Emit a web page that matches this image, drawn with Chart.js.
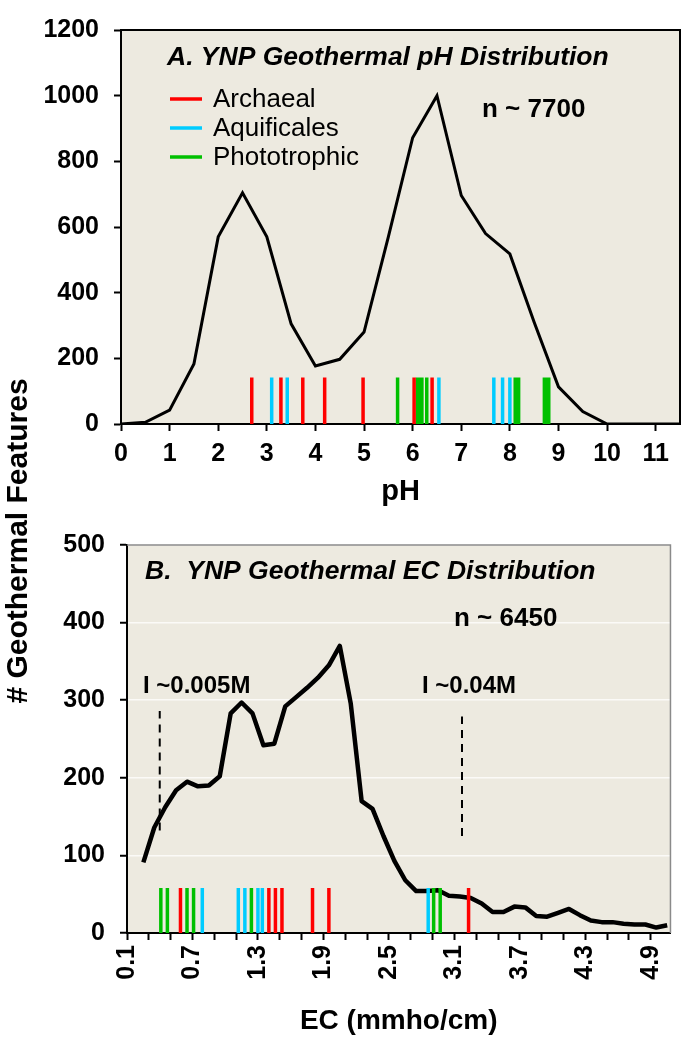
<!DOCTYPE html>
<html>
<head>
<meta charset="utf-8">
<script src="https://cdn.jsdelivr.net/npm/chart.js@4.4.1/dist/chart.umd.min.js"></script>
<style>
body { margin: 0; background: #fff; width: 686px; height: 1043px; position: relative; overflow: hidden; }
#chartA { position: absolute; left: 0; top: 0; }
#chartB { position: absolute; left: 0; top: 515px; }
#ytitle { position: absolute; left: -182px; top: 523px; width: 400px; height: 36px; line-height: 36px;
  text-align: center; font: bold 30px "Liberation Sans", Arial, sans-serif; transform: rotate(-90deg); }
</style>
</head>
<body>
<canvas id="chartA" width="686" height="515"></canvas>
<canvas id="chartB" width="686" height="528"></canvas>
<div id="ytitle"># Geothermal Features</div>
<script>
// groups shown as short marks along the x axis
let groupNames = ["Archaeal", "Aquificales", "Phototrophic"];
let groupColors = ["#ff0000", "#00ccff", "#00c000"];

// A. pH distribution
let phValues = [0, 0.5, 1, 1.5, 2, 2.5, 3, 3.5, 4, 4.5, 5, 5.5, 6, 6.5, 7, 7.5, 8, 8.5, 9, 9.5, 10, 10.5, 11, 11.5];
let phCounts = [0, 5, 42, 183, 570, 704, 570, 305, 177, 197, 280, 570, 872, 1000, 696, 580, 518, 310, 113, 38, 0, 0, 0, 0];
let phTicks = [0, 1, 2, 3, 4, 5, 6, 7, 8, 9, 10, 11];

let archaealPH = [2.69, 3.29, 3.74, 4.19, 4.98, 6.03, 6.40];
let aquificalesPH = [3.10, 3.42, 6.54, 7.67, 7.85, 8.00];
let phototrophicPH = [5.69, 6.10, 6.15, 6.19, 6.29, 8.11, 8.18, 8.71, 8.76, 8.80];

// B. EC distribution
let ecValues = [0.25, 0.35, 0.45, 0.55, 0.65, 0.75, 0.85, 0.95, 1.05, 1.15, 1.25, 1.35, 1.45, 1.55, 1.65, 1.75,
  1.85, 1.95, 2.05, 2.15, 2.25, 2.35, 2.45, 2.55, 2.65, 2.75, 2.85, 2.95, 3.05, 3.15, 3.25, 3.35, 3.45, 3.55,
  3.65, 3.75, 3.85, 3.95, 4.05, 4.15, 4.25, 4.35, 4.45, 4.55, 4.65, 4.75, 4.85, 4.95, 5.05];
let ecCounts = [91, 136, 162, 184, 195, 189, 190, 202, 283, 297, 283, 242, 244, 292, 304, 316,
  329, 345, 370, 296, 170, 160, 125, 93, 68, 54, 54, 55, 48, 47, 45, 38, 27, 27,
  34, 33, 22, 21, 26, 31, 23, 16, 14, 14, 12, 11, 11, 7, 10];
let ecTicks = [0.1, 0.3, 0.5, 0.7, 0.9, 1.1, 1.3, 1.5, 1.7, 1.9, 2.1, 2.3, 2.5, 2.7, 2.9, 3.1, 3.3, 3.5,
  3.7, 3.9, 4.1, 4.3, 4.5, 4.7, 4.9];
let ecTickLabels = ["0.1", "", "", "0.7", "", "", "1.3", "", "", "1.9", "", "", "2.5", "", "", "3.1", "", "",
  "3.7", "", "", "4.3", "", "", "4.9"];

let archaealEC = [0.59, 1.40, 1.46, 1.52, 1.80, 1.95, 3.23];
let aquificalesEC = [0.79, 1.12, 1.18, 1.30, 1.34, 2.86];
let phototrophicEC = [0.41, 0.47, 0.65, 0.71, 1.24, 2.91, 2.97];

// ionic strength markers
let ionLabels = ["I ~0.005M", "I ~0.04M"];
let ionEC = [0.40, 3.17];
let ionTop = [286, 279];
let ionBottom = [132, 125];

let markHeightA = 142;
let markHeightB = 58;

const FONT = "'Liberation Sans', Arial, sans-serif";
Chart.defaults.font.family = FONT;
Chart.defaults.color = "#000";

function markData(xs, h) {
    let pts = [];
    xs.forEach(function (x) {
        pts.push({x: x, y: 0}, {x: x, y: h}, {x: x, y: null});
    });
    return pts;
}

function xyData(xs, ys) {
    return xs.map(function (x, i) { return {x: x, y: ys[i]}; });
}

// beige plot area + frame on top/right
let plotFrame = {
    id: "plotFrame",
    beforeDraw(chart, args, opts) {
        let a = chart.chartArea, ctx = chart.ctx;
        ctx.save();
        ctx.fillStyle = "#edeae0";
        ctx.fillRect(a.left, a.top, a.right - a.left, a.bottom - a.top);
        ctx.restore();
    },
    afterDraw(chart, args, opts) {
        let a = chart.chartArea, ctx = chart.ctx;
        ctx.save();
        ctx.strokeStyle = opts.color;
        ctx.lineWidth = opts.width;
        ctx.beginPath();
        ctx.moveTo(a.left, a.top);
        ctx.lineTo(a.right, a.top);
        ctx.lineTo(a.right, a.bottom);
        ctx.stroke();
        ctx.restore();
    }
};

// titles, notes and the little legend inside the plot
let notes = {
    id: "notes",
    afterDraw(chart, args, opts) {
        let a = chart.chartArea, ctx = chart.ctx;
        ctx.save();
        ctx.fillStyle = "#000";
        ctx.textBaseline = "middle";
        ctx.textAlign = "left";
        (opts.items || []).forEach(function (it) {
            ctx.font = it.font + " " + FONT;
            ctx.fillText(it.text, a.left + it.dx, a.top + it.dy);
        });
        if (opts.legend) {
            let lg = opts.legend;
            ctx.font = lg.font + " " + FONT;
            groupNames.forEach(function (name, i) {
                let y = a.top + lg.dy + i * lg.gap;
                ctx.strokeStyle = groupColors[i];
                ctx.lineWidth = 3.5;
                ctx.beginPath();
                ctx.moveTo(a.left + lg.dx, y);
                ctx.lineTo(a.left + lg.dx + 32, y);
                ctx.stroke();
                ctx.fillText(name, a.left + lg.dx + 43, y + 1);
            });
        }
        ctx.restore();
    }
};

function markSets(lists, h) {
    return lists.map(function (xs, i) {
        return {
            label: groupNames[i],
            data: markData(xs, h),
            borderColor: groupColors[i],
            borderWidth: 3.5,
            borderCapStyle: "butt",
            pointRadius: 0,
            spanGaps: false
        };
    });
}

let tickFont = {size: 25, weight: "bold"};
function plainTick(v) { return String(v); }

// ---- chart A
let setsA = markSets([archaealPH, aquificalesPH, phototrophicPH], markHeightA);
setsA.push({
    label: "pH",
    data: xyData(phValues, phCounts),
    borderColor: "#000",
    borderWidth: 3,
    pointRadius: 0,
    tension: 0
});

new Chart(document.getElementById("chartA"), {
    type: "line",
    data: {datasets: setsA},
    plugins: [plotFrame, notes],
    options: {
        responsive: false,
        animation: false,
        layout: {padding: {top: 15, right: 6, left: 0, bottom: 0}},
        plugins: {
            legend: {display: false},
            tooltip: {enabled: false},
            plotFrame: {color: "#000", width: 2},
            notes: {
                items: [
                    {text: "A. YNP Geothermal pH Distribution", font: "italic bold 26.5px", dx: 46, dy: 28},
                    {text: "n ~ 7700", font: "bold 26px", dx: 361, dy: 80}
                ],
                legend: {font: "26px", dx: 49, dy: 69, gap: 29}
            }
        },
        scales: {
            x: {
                type: "linear",
                min: 0,
                max: 11.5,
                afterBuildTicks: function (s) { s.ticks = phTicks.map(function (v) { return {value: v}; }); },
                afterFit: function (s) { s.height = 91; },
                ticks: {font: tickFont, padding: 8, autoSkip: false, maxRotation: 0, callback: plainTick},
                grid: {drawOnChartArea: false, tickLength: 7, tickWidth: 2, tickColor: "#000"},
                border: {color: "#000", width: 2},
                title: {display: true, text: "pH", font: {size: 29, weight: "bold"}, padding: {top: 0, bottom: 6}}
            },
            y: {
                min: 0,
                max: 1200,
                afterFit: function (s) { s.width = 121; },
                ticks: {stepSize: 200, font: tickFont, padding: 15, callback: plainTick},
                grid: {drawOnChartArea: false, tickLength: 7, tickWidth: 2, tickColor: "#000"},
                border: {color: "#000", width: 2}
            }
        }
    }
});

// ---- chart B
let setsB = markSets([archaealEC, aquificalesEC, phototrophicEC], markHeightB);
let ionData = [];
ionEC.forEach(function (x, i) {
    ionData.push({x: x, y: ionBottom[i]}, {x: x, y: ionTop[i]}, {x: x, y: null});
});
setsB.push({
    label: "ionic strength",
    data: ionData,
    borderColor: "#000",
    borderWidth: 2,
    borderDash: [8, 6],
    pointRadius: 0,
    spanGaps: false
});
setsB.push({
    label: "EC",
    data: xyData(ecValues, ecCounts),
    borderColor: "#000",
    borderWidth: 4.5,
    borderJoinStyle: "round",
    pointRadius: 0,
    tension: 0
});

new Chart(document.getElementById("chartB"), {
    type: "line",
    data: {datasets: setsB},
    plugins: [plotFrame, notes],
    options: {
        responsive: false,
        animation: false,
        layout: {padding: {top: 13, right: 5, left: 0, bottom: 0}},
        plugins: {
            legend: {display: false},
            tooltip: {enabled: false},
            plotFrame: {color: "#8a8a8a", width: 1.5},
            notes: {
                items: [
                    {text: "B.  YNP Geothermal EC Distribution", font: "italic bold 26.5px", dx: 18, dy: 27},
                    {text: "n ~ 6450", font: "bold 26px", dx: 327, dy: 74},
                    {text: ionLabels[0], font: "bold 24px", dx: 16, dy: 141},
                    {text: ionLabels[1], font: "bold 24px", dx: 295, dy: 141}
                ]
            }
        },
        scales: {
            x: {
                type: "linear",
                min: 0.1,
                max: 5.08,
                afterBuildTicks: function (s) { s.ticks = ecTicks.map(function (v) { return {value: v}; }); },
                afterFit: function (s) { s.height = 110; },
                ticks: {
                    font: tickFont,
                    padding: 5,
                    autoSkip: false,
                    minRotation: 90,
                    maxRotation: 90,
                    callback: function (v, i) { return ecTickLabels[i]; }
                },
                grid: {drawOnChartArea: false, tickLength: 7, tickWidth: 2, tickColor: "#000"},
                border: {color: "#000", width: 2},
                title: {display: true, text: "EC (mmho/cm)", font: {size: 28, weight: "bold"}, padding: {top: 0, bottom: 5}}
            },
            y: {
                min: 0,
                max: 500,
                afterFit: function (s) { s.width = 127; },
                ticks: {stepSize: 100, font: tickFont, padding: 15, callback: plainTick},
                grid: {color: "rgba(255,255,255,0.75)", lineWidth: 1.5, tickLength: 7, tickWidth: 2, tickColor: "#000"},
                border: {color: "#000", width: 2}
            }
        }
    }
});
</script>
</body>
</html>
